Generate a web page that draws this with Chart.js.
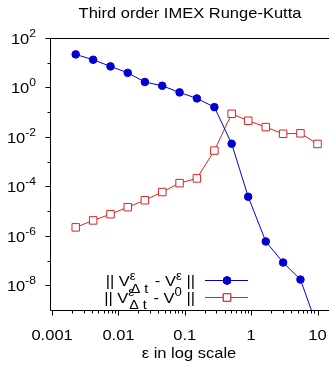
<!DOCTYPE html>
<html>
<head>
<meta charset="utf-8">
<script src="https://cdn.jsdelivr.net/npm/chart.js@4"></script>
<style>
  html, body { margin: 0; padding: 0; background: #fff; overflow: hidden; }
  #wrap { width: 350px; height: 366px; }
</style>
</head>
<body>
<div id="wrap"><canvas id="chart"></canvas></div>
<script>
// values
const epsValues = [0.00227, 0.00416, 0.00759, 0.0138, 0.025, 0.0457, 0.0834, 0.152, 0.279, 0.508, 0.902, 1.66, 3.03, 5.53, 10];
const errToRef = [21.7, 13.2, 7.1, 3.9, 1.66, 1.17, 0.63, 0.36, 0.16, 0.0053, 3.8e-5, 5.9e-7, 8.3e-8, 1.7e-8, 2e-10];
const errToLimit = [2.2e-6, 4.2e-6, 7.5e-6, 1.44e-5, 2.75e-5, 5.9e-5, 1.35e-4, 2.1e-4, 2.8e-3, 0.086, 0.045, 0.025, 0.0134, 0.014, 0.0052];

const xTickValues = [0.001, 0.01, 0.1, 1, 10];
const xTickLabels = ['0.001', '0.01', '0.1', '1', '10'];
const yTickExponents = [2, 0, -2, -4, -6, -8];
const yMinorExponents = [1, -1, -3, -5, -7];

const titleText = 'Third order IMEX Runge-Kutta';
const xTitleText = '\u03b5 in log scale';

const FONT = '"Liberation Sans", Arial, Helvetica, sans-serif';
const BLUE = '#0000d0';
const RED = '#dd2222';
const STRETCH = 1.1; // the original lettering is a bit wider than Arial

function pts(ys) {
    return epsValues.map((x, i) => ({ x: x, y: ys[i] }));
}

// legend rows are built from pieces so the super/subscripts come out right
const legendRows = [
    { dataset: 0, parts: [['t', '|| V'], ['ss', '\u03b5', '\u0394 t'], ['t', ' - V'], ['sup', '\u03b5'], ['t', ' ||']] },
    { dataset: 1, parts: [['t', '|| V'], ['ss', '\u03b5', '\u0394 t'], ['t', ' - V'], ['sup', '0'], ['t', ' ||']] }
];

// text drawn with a horizontal stretch, returns the drawn width
function text(ctx, s, x, y, size, align) {
    ctx.font = size + 'px ' + FONT;
    const w = ctx.measureText(s).width * STRETCH;
    let x0 = x;
    if (align === 'center') x0 = x - w / 2;
    else if (align === 'right') x0 = x - w;
    ctx.save();
    ctx.textAlign = 'left';
    ctx.textBaseline = 'alphabetic';
    ctx.translate(x0, y);
    ctx.scale(STRETCH, 1);
    ctx.fillText(s, 0, 0);
    ctx.restore();
    return w;
}

function textWidth(ctx, s, size) {
    ctx.font = size + 'px ' + FONT;
    return ctx.measureText(s).width * STRETCH;
}

function pieceWidth(ctx, p) {
    if (p[0] === 't') return textWidth(ctx, p[1], 15);
    if (p[0] === 'sup') return textWidth(ctx, p[1], 12);
    return Math.max(textWidth(ctx, p[1], 12), textWidth(ctx, p[2], 13)) + 3;
}

function drawPieces(ctx, parts, right, cy) {
    let total = 0;
    parts.forEach(p => { total += pieceWidth(ctx, p); });
    let x = right - total;
    parts.forEach(p => {
        if (p[0] === 't') {
            text(ctx, p[1], x, cy + 6, 15);
        } else {
            text(ctx, p[1], x, cy - 0.5, 12);
            if (p[0] === 'ss') text(ctx, p[2], x + 1, cy + 12.5, 13);
        }
        x += pieceWidth(ctx, p);
    });
}

const frame = {
    id: 'frame',
    beforeDatasetsDraw(chart) {
        const ctx = chart.ctx;
        const a = chart.chartArea;
        const l = Math.round(a.left) + 0.5, t = Math.round(a.top) + 0.5, b = Math.round(a.bottom) + 0.5;
        ctx.save();
        ctx.strokeStyle = '#000';
        ctx.lineWidth = 1;
        ctx.beginPath();
        ctx.moveTo(a.right, t);
        ctx.lineTo(l, t);
        ctx.lineTo(l, b);
        ctx.lineTo(a.right, b);
        ctx.stroke();
        ctx.restore();
    },
    afterDraw(chart) {
        const ctx = chart.ctx;
        const a = chart.chartArea;
        const xs = chart.scales.x, ys = chart.scales.y;
        const l = Math.round(a.left) + 0.5, b = Math.round(a.bottom) + 0.5;
        ctx.save();
        ctx.strokeStyle = '#000';
        ctx.fillStyle = '#000';
        ctx.lineWidth = 1;

        // x ticks, major at decades and minor at 2..9
        ctx.beginPath();
        for (let e = -3; e <= 1; e++) {
            for (let k = 1; k <= 9; k++) {
                const v = k * Math.pow(10, e);
                const px = Math.round(xs.getPixelForValue(v)) + 0.5;
                if (px < a.left || px > a.right) continue;
                ctx.moveTo(px, b);
                ctx.lineTo(px, b + (k === 1 ? 5 : 3));
            }
        }
        // y ticks
        yTickExponents.forEach(e => {
            const py = Math.round(ys.getPixelForValue(Math.pow(10, e))) + 0.5;
            ctx.moveTo(l, py);
            ctx.lineTo(l - 5, py);
        });
        yMinorExponents.forEach(e => {
            const py = Math.round(ys.getPixelForValue(Math.pow(10, e))) + 0.5;
            ctx.moveTo(l, py);
            ctx.lineTo(l - 3, py);
        });
        ctx.stroke();

        // x tick labels
        xTickValues.forEach((v, i) => {
            text(ctx, xTickLabels[i], xs.getPixelForValue(v), 339.5, 15, 'center');
        });

        // y tick labels as 10 with a superscript exponent
        yTickExponents.forEach(e => {
            const py = ys.getPixelForValue(Math.pow(10, e));
            const ex = e < 0 ? '-' + (-e) : String(e);
            const ew = text(ctx, ex, 36, py - 1, 11, 'right');
            text(ctx, '10', 36 - ew, py + 6, 15, 'right');
        });

        // title and axis title
        text(ctx, titleText, 190, 18, 15, 'center');
        text(ctx, xTitleText, 189, 357.5, 15, 'center');

        // key, inside the plot
        legendRows.forEach((row, i) => {
            const cy = i === 0 ? 280 : 296.5;
            drawPieces(ctx, row.parts, 195, cy);
            const ds = chart.data.datasets[row.dataset];
            ctx.strokeStyle = ds.borderColor;
            ctx.lineWidth = 1;
            ctx.beginPath();
            ctx.moveTo(205, Math.round(cy) + 0.5);
            ctx.lineTo(248, Math.round(cy) + 0.5);
            ctx.stroke();
            Chart.helpers.drawPoint(ctx, {
                pointStyle: ds.pointStyle,
                radius: ds.pointRadius,
                borderWidth: ds.pointBorderWidth
            }, 227, Math.round(cy) + 0.5);
            ctx.fillStyle = ds.pointBackgroundColor;
            ctx.strokeStyle = ds.pointBorderColor;
            ctx.lineWidth = ds.pointBorderWidth;
            ctx.fill();
            ctx.stroke();
            ctx.fillStyle = '#000';
        });
        ctx.restore();
    }
};

new Chart(document.getElementById('chart'), {
    type: 'line',
    data: {
        datasets: [
            {
                label: '|| V\u03b5\u0394t - V\u03b5 ||',
                data: pts(errToRef),
                borderColor: BLUE,
                borderWidth: 1,
                pointStyle: 'circle',
                pointRadius: 3.8,
                pointBorderWidth: 1,
                pointBackgroundColor: BLUE,
                pointBorderColor: BLUE,
                clip: 0
            },
            {
                label: '|| V\u03b5\u0394t - V0 ||',
                data: pts(errToLimit),
                borderColor: RED,
                borderWidth: 1,
                pointStyle: 'rect',
                pointRadius: 5.3,
                pointBorderWidth: 1,
                pointBackgroundColor: '#fff',
                pointBorderColor: RED,
                clip: 0
            }
        ]
    },
    options: {
        responsive: true,
        maintainAspectRatio: false,
        animation: false,
        events: [],
        layout: { padding: { left: 50, top: 38, right: 12.5, bottom: 56 } },
        plugins: { legend: { display: false }, tooltip: { enabled: false } },
        scales: {
            x: { type: 'logarithmic', min: 0.00093, max: 20, display: false },
            y: { type: 'logarithmic', min: 1e-9, max: 100, display: false }
        }
    },
    plugins: [frame]
});
</script>
</body>
</html>
